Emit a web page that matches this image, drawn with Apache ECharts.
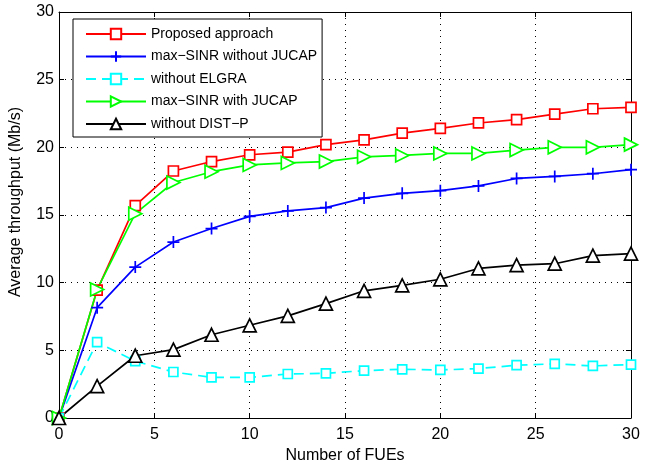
<!DOCTYPE html>
<html>
<head>
<meta charset="utf-8">
<script src="https://cdn.jsdelivr.net/npm/echarts@6/dist/echarts.min.js"></script>
<style>
  html, body { margin: 0; padding: 0; background: #fff; }
  #chart { width: 652px; height: 461px; }
</style>
</head>
<body>
<div id="chart"></div>
<script>
// x values: number of FUEs
const fues = [0, 2, 4, 6, 8, 10, 12, 14, 16, 18, 20, 22, 24, 26, 28, 30];

const proposed = [0, 9.45, 15.7, 18.25, 18.95, 19.45, 19.65, 20.2, 20.55, 21.05, 21.4, 21.8, 22.05, 22.45, 22.85, 22.95];
const sinrNoJucap = [0, 8.15, 11.15, 13.0, 14.0, 14.9, 15.3, 15.55, 16.25, 16.6, 16.8, 17.15, 17.7, 17.85, 18.05, 18.35];
const noElgra = [0, 5.6, 4.2, 3.4, 3.0, 3.0, 3.25, 3.3, 3.5, 3.6, 3.55, 3.65, 3.9, 4.0, 3.85, 3.95];
const sinrJucap = [0, 9.5, 15.1, 17.4, 18.2, 18.7, 18.85, 18.95, 19.3, 19.4, 19.55, 19.55, 19.8, 20.0, 20.0, 20.2];
const noDistP = [0, 2.35, 4.6, 5.05, 6.15, 6.85, 7.55, 8.45, 9.4, 9.8, 10.25, 11.05, 11.3, 11.4, 12.0, 12.15];

const seriesNames = [
  "Proposed approach",
  "max\u2212SINR without JUCAP",
  "without ELGRA",
  "max\u2212SINR with JUCAP",
  "without DIST\u2212P",
];

const font = "Liberation Sans, Arial, Helvetica, sans-serif";
const pair = (ys) => fues.map((x, i) => [x, ys[i]]);

const plusPath = "path://M5,0 L5,10 M0,5 L10,5";
const rightTri = "path://M0,0 L10,5 L0,10 Z";

function mkSeries(name, data, color, symbol, size, extra) {
  return Object.assign({
    name: name,
    type: "line",
    data: pair(data),
    symbol: symbol,
    symbolSize: size,
    showAllSymbol: true,
    animation: false,
    lineStyle: { color: color, width: 1.7 },
    itemStyle: { color: "#fff", borderColor: color, borderWidth: 1.7 },
    emphasis: { disabled: true },
  }, extra || {});
}

const chart = echarts.init(document.getElementById("chart"));
chart.setOption({
  backgroundColor: "#fff",
  animation: false,
  grid: { left: 59, right: 21, top: 12, bottom: 43, containLabel: false, outerBoundsMode: "none" },
  legend: {
    left: 73,
    top: 19,
    orient: "vertical",
    backgroundColor: "#fff",
    borderColor: "#000",
    borderWidth: 1,
    padding: [8, 5, 6, 12],
    itemWidth: 60,
    itemHeight: 13,
    itemGap: 8.5,
    textStyle: { fontFamily: font, fontSize: 14, color: "#000" },
    data: seriesNames,
  },
  xAxis: [
    {
      type: "value",
      min: 0, max: 30, interval: 5,
      name: "Number of FUEs",
      nameLocation: "middle",
      nameGap: 28,
      nameTextStyle: { fontFamily: font, fontSize: 16, color: "#000" },
      axisLine: { lineStyle: { color: "#000", width: 1 } },
      axisTick: { inside: true, length: 5, lineStyle: { color: "#000" } },
      axisLabel: { fontFamily: font, fontSize: 16, color: "#000", margin: 9 },
      splitLine: { show: true, lineStyle: { color: "#000", type: [1, 5], width: 1 } },
    },
    {
      type: "value", position: "top",
      min: 0, max: 30, interval: 5,
      axisLine: { onZero: false, lineStyle: { color: "#000" } },
      axisTick: { inside: true, length: 5, lineStyle: { color: "#000" } },
      axisLabel: { show: false },
      splitLine: { show: false },
    },
  ],
  yAxis: [
    {
      type: "value",
      min: 0, max: 30, interval: 5,
      name: "Average throughput (Mb/s)",
      nameLocation: "middle",
      nameGap: 35,
      nameTextStyle: { fontFamily: font, fontSize: 16, color: "#000", padding: [0, 0, 0, 26] },
      axisLine: { show: true, lineStyle: { color: "#000", width: 1 } },
      axisTick: { show: true, inside: true, length: 5, lineStyle: { color: "#000" } },
      axisLabel: { fontFamily: font, fontSize: 16, color: "#000", margin: 5 },
      splitLine: { show: true, lineStyle: { color: "#000", type: [1, 5], width: 1 } },
    },
    {
      type: "value", position: "right",
      min: 0, max: 30, interval: 5,
      axisLine: { show: true, onZero: false, lineStyle: { color: "#000" } },
      axisTick: { show: true, inside: true, length: 5, lineStyle: { color: "#000" } },
      axisLabel: { show: false },
      splitLine: { show: false },
    },
  ],
  series: [
    mkSeries(seriesNames[0], proposed, "#ff0000", "rect", 10),
    mkSeries(seriesNames[1], sinrNoJucap, "#0000ff", plusPath, 12),
    mkSeries(seriesNames[2], noElgra, "#00ffff", "rect", 9, {
      lineStyle: { color: "#00ffff", width: 1.7, type: [10, 6] },
    }),
    mkSeries(seriesNames[3], sinrJucap, "#00ff00", rightTri, 13),
    mkSeries(seriesNames[4], noDistP, "#000000", "triangle", 13),
  ],
});
</script>
</body>
</html>
